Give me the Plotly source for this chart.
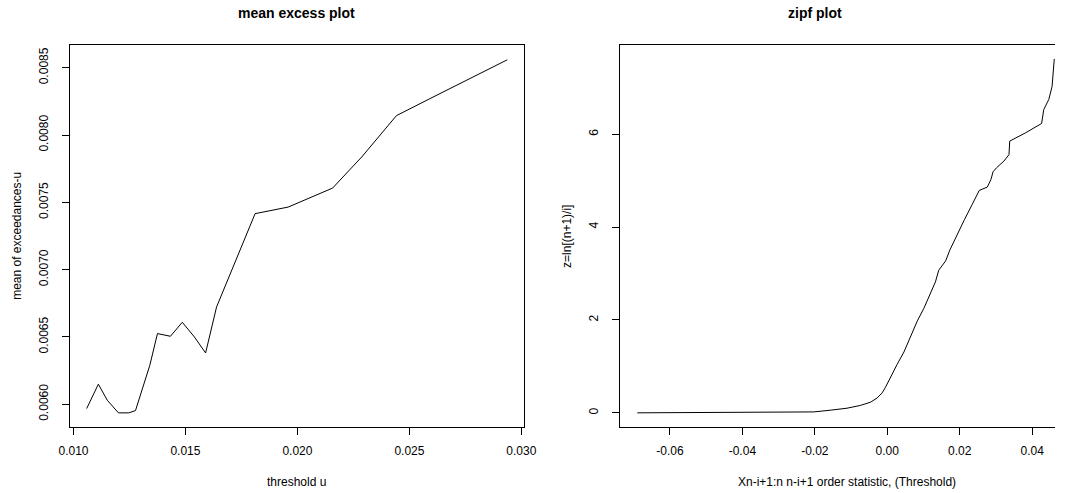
import plotly.graph_objects as go

# ---- data: mean excess plot ----
me_threshold = [0.01059, 0.01111, 0.01151, 0.01201, 0.01247, 0.01277, 0.01341, 0.01375,
                0.01433, 0.01486, 0.01540, 0.01590, 0.01639, 0.01707, 0.01811, 0.01959,
                0.02157, 0.02287, 0.02442, 0.02591, 0.02937]
me_mean_excess = [0.005968, 0.006149, 0.006030, 0.005936, 0.005936, 0.005953, 0.006290, 0.006525,
                  0.006505, 0.006609, 0.006500, 0.006381, 0.006723, 0.007000, 0.007416, 0.007465,
                  0.007606, 0.007837, 0.008144, 0.008270, 0.008559]

# ---- data: zipf plot ----
zipf_x = [-0.0690, -0.0285, -0.0203, -0.0157, -0.0111, -0.0074, -0.0046, -0.0028, -0.0014,
          -0.0005, 0.0009, 0.0027, 0.0046, 0.0064, 0.0083, 0.0101, 0.0119, 0.0133, 0.0142,
          0.0161, 0.0173, 0.0188, 0.0202, 0.0213, 0.0234, 0.0254, 0.0276, 0.0286, 0.0292,
          0.0302, 0.0322, 0.0336, 0.0338, 0.0382, 0.0426, 0.0432, 0.0446, 0.0455, 0.0461]
zipf_z = [0.0, 0.007, 0.02, 0.057, 0.10, 0.16, 0.23, 0.32, 0.43,
          0.55, 0.78, 1.04, 1.31, 1.64, 1.98, 2.25, 2.57, 2.82, 3.07,
          3.27, 3.51, 3.76, 4.01, 4.16, 4.48, 4.79, 4.86, 5.02, 5.19,
          5.28, 5.42, 5.56, 5.85, 6.03, 6.23, 6.53, 6.75, 7.03, 7.62]

# ---- tick labels ----
me_xtick_vals = [0.010, 0.015, 0.020, 0.025, 0.030]
me_xtick_text = ["0.010", "0.015", "0.020", "0.025", "0.030"]
me_ytick_vals = [0.0060, 0.0065, 0.0070, 0.0075, 0.0080, 0.0085]
me_ytick_text = ["0.0060", "0.0065", "0.0070", "0.0075", "0.0080", "0.0085"]
zipf_xtick_vals = [-0.06, -0.04, -0.02, 0.00, 0.02, 0.04]
zipf_xtick_text = ["-0.06", "-0.04", "-0.02", "0.00", "0.02", "0.04"]
zipf_ytick_vals = [0, 2, 4, 6]
zipf_ytick_text = ["0", "2", "4", "6"]

W, H = 1068, 493
FONT = "Liberation Sans, Arial, sans-serif"


def px(x):
    return x / W


def py(y):
    return 1 - y / H


fig = go.Figure()
fig.add_trace(go.Scatter(x=me_threshold, y=me_mean_excess, mode="lines",
                         line=dict(color="black", width=1), xaxis="x", yaxis="y",
                         showlegend=False, hoverinfo="skip"))
fig.add_trace(go.Scatter(x=zipf_x, y=zipf_z, mode="lines",
                         line=dict(color="black", width=1), xaxis="x2", yaxis="y2",
                         showlegend=False, hoverinfo="skip"))

axis_common = dict(showline=True, linecolor="black", linewidth=1, ticks="outside",
                   ticklen=7, tickcolor="black", tickwidth=1, showgrid=False,
                   zeroline=False, tickfont=dict(family=FONT, size=12, color="black"))

ydom = [py(427), py(45)]

fig.update_layout(
    width=W, height=H,
    margin=dict(l=0, r=0, t=0, b=0),
    paper_bgcolor="white", plot_bgcolor="white",
    font=dict(family=FONT, color="black"),
    hovermode=False,
    xaxis=dict(domain=[px(60.1), px(524.9)], range=[0.009834, 0.030122], anchor="y",
               mirror=True, tickvals=me_xtick_vals, ticktext=me_xtick_text,
               ticklabelstandoff=6, **axis_common),
    yaxis=dict(domain=ydom, range=[0.005831, 0.008669], anchor="x",
               mirror=True, tickvals=me_ytick_vals, ticktext=me_ytick_text,
               tickangle=-90, ticklabelstandoff=9, **axis_common),
    xaxis2=dict(domain=[px(623.0), 1.0], range=[-0.07378, 0.0463], anchor="y2",
                mirror=True, tickvals=zipf_xtick_vals, ticktext=zipf_xtick_text,
                ticklabelstandoff=6, **axis_common),
    yaxis2=dict(domain=ydom, range=[-0.305, 7.92], anchor="x2",
                mirror=False, tickvals=zipf_ytick_vals, ticktext=zipf_ytick_text,
                tickangle=-90, ticklabelstandoff=9, **axis_common),
)

ann = [
    dict(text="<b>mean excess plot</b>", x=px(292.5), y=py(13), size=14, angle=0),
    dict(text="<b>zipf plot</b>", x=px(822), y=py(13), size=14, angle=0),
    dict(text="threshold u", x=px(292.5), y=py(482), size=12, angle=0),
    dict(text="Xn-i+1:n n-i+1 order statistic, (Threshold)", x=px(855), y=py(482), size=12, angle=0),
    dict(text="mean of exceedances-u", x=px(6), y=py(236), size=12, angle=-90),
    dict(text="z=ln[(n+1)/i]", x=px(568.7), y=py(236), size=12, angle=-90),
]
for a in ann:
    fig.add_annotation(text=a["text"], x=a["x"], y=a["y"], xref="paper", yref="paper",
                       xanchor="center", yanchor="middle", showarrow=False,
                       textangle=a["angle"],
                       font=dict(family=FONT, size=a["size"], color="black"))

post = (
    "var h=document.documentElement,b=document.body;"
    "[h,b].forEach(function(e){e.style.margin='0';e.style.padding='0';"
    "e.style.overflow='hidden';});"
    "var g=document.getElementById('{plot_id}');"
    "g.style.position='absolute';g.style.left='0px';g.style.top='0px';"
)

fig.write_html("out.html",
               config={"displayModeBar": False, "staticPlot": True},
               post_script=post)
